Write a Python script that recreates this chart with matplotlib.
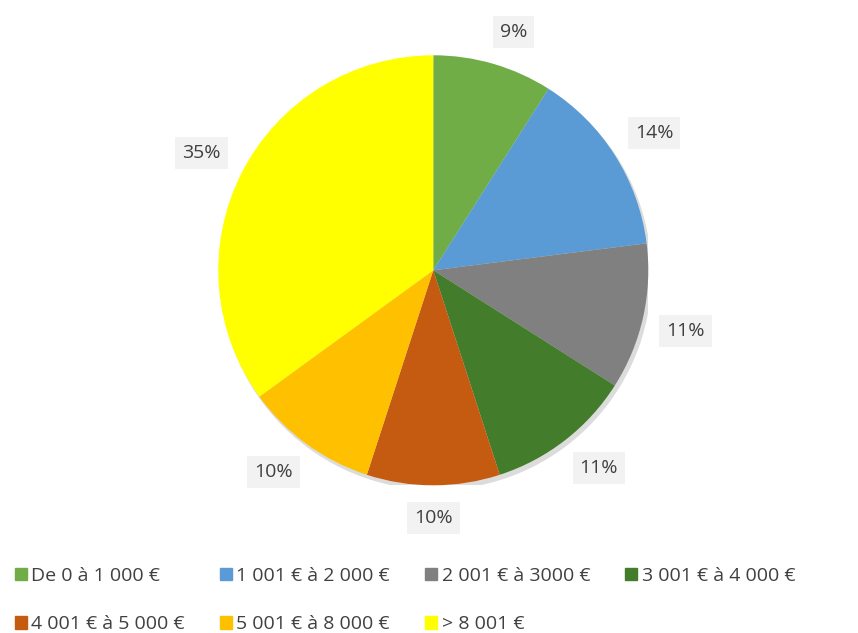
import numpy as np
import matplotlib.pyplot as plt
import matplotlib.patches as mpatches

# income bands and their share
labels = ['De 0 à 1 000 €', '1 001 € à 2 000 €', '2 001 € à 3000 €', '3 001 € à 4 000 €',
          '4 001 € à 5 000 €', '5 001 € à 8 000 €', '> 8 001 €']
shares = [9, 14, 11, 11, 10, 10, 35]
colours = ['#70AD47', '#5B9BD5', '#808080', '#437C2A', '#C55A11', '#FFC000', '#FFFF00']

plt.rcParams['font.family'] = ['Open Sans', 'DejaVu Sans']

fig = plt.figure(figsize=(8.58, 6.33), dpi=100)
ax = fig.add_axes([0.505 - 0.2506, 0.573 - 0.3397, 0.5012, 0.6794])

# soft shadow behind the pie
ax.add_patch(mpatches.Circle((0.012, -0.018), 1.0, color='#dcdcdc', zorder=0))
wedges, _ = ax.pie(shares, colors=colours, startangle=90, counterclock=False,
                   wedgeprops=dict(linewidth=0))

# percentage labels just outside the pie, like Excel "outside end"
for w, s in zip(wedges, shares):
    ang = np.deg2rad((w.theta1 + w.theta2) / 2)
    x, y = 1.11 * np.cos(ang), 1.11 * np.sin(ang)
    ha = 'left' if x > 0.15 else ('right' if x < -0.15 else 'center')
    va = 'bottom' if y > 0.15 else ('top' if y < -0.15 else 'center')
    ax.text(x, y, f'{s}%', ha=ha, va=va, fontsize=14, color='#404040',
            bbox=dict(facecolor='#f2f2f2', edgecolor='none', pad=5))
ax.set_xlim(-1, 1)
ax.set_ylim(-1, 1)
ax.set_aspect('equal')

# legend laid out row by row like Excel
handles = [mpatches.Patch(color=c, label=l) for c, l in zip(colours, labels)]
order = [0, 4, 1, 5, 2, 6, 3]
fig.legend([handles[i] for i in order], [labels[i] for i in order],
           loc='lower left', bbox_to_anchor=(-0.003, -0.028), ncol=4, frameon=False,
           fontsize=14, handlelength=0.6, handleheight=0.6, handletextpad=0.25,
           columnspacing=1.8, labelspacing=1.55, labelcolor='#404040')

plt.savefig('out.png', dpi=100)
